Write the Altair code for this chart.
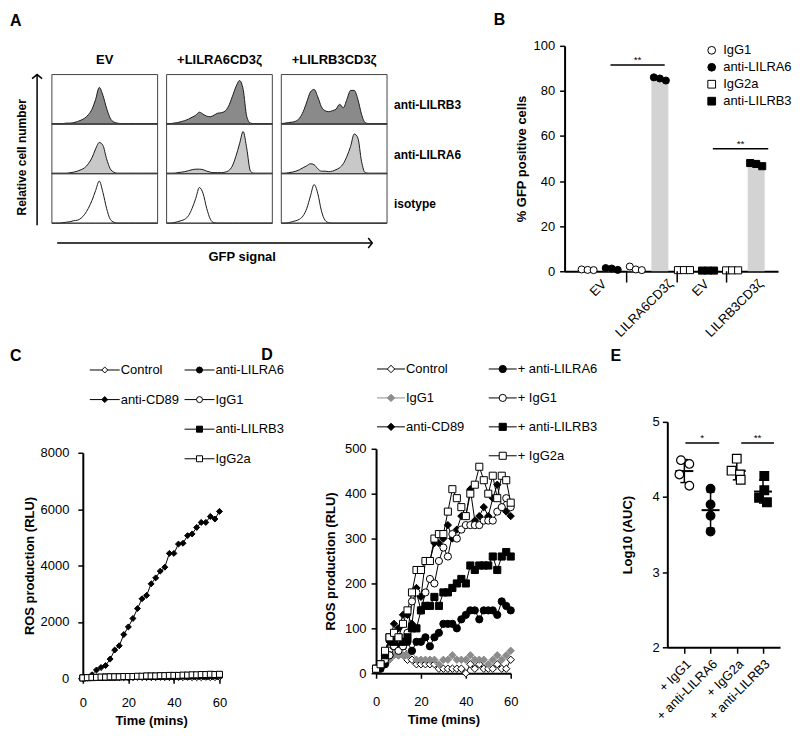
import altair as alt
import pandas as pd

FONT = "Liberation Sans"

# ======================= DATA =======================
# ---- Panel A: flow-cytometry histograms (height as fraction of a box) ----
a_constructs = ["EV", "+LILRA6CD3ζ", "+LILRB3CD3ζ"]
a_stains = ["anti-LILRB3", "anti-LILRA6", "isotype"]
a_fills = ["#8a8a8a", "#c8c8c8", "#ffffff"]
a_bins = [0, 1, 2, 3, 4, 5, 6, 7, 8, 9, 10, 11, 12, 13, 14, 15, 16, 17, 18, 19,
          20, 21, 22, 23, 24, 25, 26, 27, 28, 29]
a_ev_lilrb3 = [0.01, 0.01, 0.01, 0.01, 0.02, 0.02, 0.03, 0.05, 0.08, 0.12, 0.19, 0.30, 0.50, 0.74, 0.58,
               0.32, 0.12, 0.04, 0.02, 0.01, 0.01, 0.01, 0.01, 0.01, 0.01, 0.01, 0.01, 0.01, 0.01, 0.01]
a_ev_lilra6 = [0.01, 0.01, 0.01, 0.01, 0.01, 0.02, 0.03, 0.05, 0.08, 0.12, 0.20, 0.32, 0.50, 0.63, 0.57,
               0.30, 0.10, 0.03, 0.01, 0.01, 0.01, 0.01, 0.01, 0.01, 0.01, 0.01, 0.01, 0.01, 0.01, 0.01]
a_ev_iso = [0.00, 0.00, 0.00, 0.01, 0.02, 0.03, 0.05, 0.06, 0.10, 0.18, 0.30, 0.46, 0.66, 0.85, 0.62,
            0.30, 0.08, 0.02, 0.00, 0.00, 0.00, 0.00, 0.00, 0.00, 0.00, 0.00, 0.00, 0.00, 0.00, 0.00]
a_a6_lilrb3 = [0.01, 0.01, 0.02, 0.03, 0.05, 0.07, 0.10, 0.14, 0.18, 0.24, 0.20, 0.16, 0.15, 0.18, 0.22,
               0.23, 0.26, 0.36, 0.55, 0.75, 0.88, 0.70, 0.15, 0.02, 0.01, 0.01, 0.01, 0.01, 0.01, 0.01]
a_a6_lilra6 = [0.01, 0.01, 0.01, 0.02, 0.03, 0.04, 0.06, 0.08, 0.09, 0.09, 0.08, 0.05, 0.03, 0.02, 0.02,
               0.02, 0.03, 0.06, 0.15, 0.35, 0.60, 0.85, 0.50, 0.05, 0.01, 0.01, 0.01, 0.01, 0.01, 0.01]
a_a6_iso = [0.00, 0.00, 0.01, 0.03, 0.05, 0.08, 0.15, 0.30, 0.50, 0.72, 0.60, 0.30, 0.08, 0.01, 0.00,
            0.00, 0.00, 0.00, 0.00, 0.00, 0.00, 0.00, 0.00, 0.00, 0.00, 0.00, 0.00, 0.00, 0.00, 0.00]
a_b3_lilrb3 = [0.01, 0.02, 0.03, 0.04, 0.06, 0.12, 0.25, 0.45, 0.65, 0.70, 0.55, 0.35, 0.27, 0.25, 0.27,
               0.30, 0.40, 0.33, 0.50, 0.68, 0.68, 0.50, 0.20, 0.03, 0.01, 0.01, 0.01, 0.01, 0.01, 0.01]
a_b3_lilra6 = [0.01, 0.01, 0.02, 0.03, 0.05, 0.08, 0.12, 0.16, 0.20, 0.18, 0.10, 0.05, 0.05, 0.04, 0.05,
               0.08, 0.12, 0.20, 0.35, 0.55, 0.80, 0.72, 0.25, 0.02, 0.01, 0.01, 0.01, 0.01, 0.01, 0.01]
a_b3_iso = [0.00, 0.00, 0.01, 0.03, 0.05, 0.08, 0.15, 0.30, 0.55, 0.78, 0.60, 0.25, 0.06, 0.01, 0.00,
            0.00, 0.00, 0.00, 0.00, 0.00, 0.00, 0.00, 0.00, 0.00, 0.00, 0.00, 0.00, 0.00, 0.00, 0.00]

# ---- Panel B: % GFP positive cells ----
b_slots = [1, 2, 3, 4, 5, 6, 7, 8]
b_antibody = ["IgG1", "anti-LILRA6", "IgG1", "anti-LILRA6", "IgG2a", "anti-LILRB3", "IgG2a", "anti-LILRB3"]
b_rep1 = [0.8, 1.4, 2.1, 86.0, 0.5, 0.3, 0.4, 48.0]
b_rep2 = [0.6, 1.2, 0.8, 85.5, 0.5, 0.3, 0.4, 47.6]
b_rep3 = [0.5, 0.6, 0.5, 84.6, 0.5, 0.3, 0.4, 46.6]
b_jitter = [-0.25, 0.0, 0.25]
b_legend_order = ["IgG1", "anti-LILRA6", "IgG2a", "anti-LILRB3"]
b_shapes = ["circle", "circle", "square", "square"]
b_fills = ["white", "black", "white", "black"]
b_tick_pos = [1.5, 4.25, 5.75, 8.0]
b_tick_labels = ["EV", "LILRA6CD3ζ", "EV", "LILRB3CD3ζ"]
b_separators = [2.62, 4.72, 6.77]
b_sig_x1 = [1.95, 6.2]
b_sig_x2 = [4.2, 8.5]
b_sig_y = [91.5, 54.3]
b_sig_text = ["**", "**"]

# ---- Panels C and D: ROS production time courses ----
t_min = [0, 2, 4, 6, 8, 10, 12, 14, 16, 18, 20, 22, 24, 26, 28, 30, 32, 34, 36, 38, 40,
         42, 44, 46, 48, 50, 52, 54, 56, 58, 60]

c_series = ["Control", "anti-CD89", "anti-LILRA6", "IgG1", "anti-LILRB3", "IgG2a"]
c_control = [10, 20, 20, 30, 20, 20, 20, 30, 20, 20, 20, 20, 30, 20, 20, 20, 20, 30, 20, 20, 30,
             20, 20, 30, 20, 20, 20, 30, 20, 20, 30]
c_cd89 = [0, 20, 120, 290, 380, 450, 680, 1000, 1150, 1550, 1820, 2120, 2470, 2820, 2940, 3350,
          3560, 3800, 3940, 4430, 4430, 4760, 4790, 5060, 5120, 5350, 5530, 5530, 5740, 5650, 5920]
c_lilra6 = [10, 20, 20, 30, 30, 30, 40, 40, 40, 50, 40, 50, 50, 60, 50, 60, 60, 60, 70, 70, 60,
            70, 80, 70, 80, 80, 90, 80, 90, 90, 100]
c_igg1 = [10, 20, 30, 30, 30, 40, 40, 40, 50, 50, 50, 50, 60, 60, 60, 70, 70, 70, 80, 80, 90,
          80, 90, 90, 100, 100, 100, 110, 110, 120, 120]
c_lilrb3 = [10, 20, 20, 30, 30, 40, 40, 40, 50, 50, 50, 60, 60, 60, 70, 70, 70, 80, 80, 80, 90,
            90, 90, 100, 100, 100, 110, 110, 110, 120, 120]
c_igg2a = [10, 20, 30, 30, 40, 40, 50, 50, 50, 60, 60, 60, 70, 70, 80, 80, 80, 90, 90, 100, 100,
           100, 110, 110, 120, 120, 130, 130, 140, 130, 140]
c_shapes = ["diamond", "diamond", "circle", "circle", "square", "square"]
c_fills = ["white", "black", "black", "white", "black", "white"]
c_strokes = ["black", "black", "black", "black", "black", "black"]
c_sizes = [36, 36, 40, 40, 40, 40]
c_legend_left = ["Control", "anti-CD89"]
c_legend_right = ["anti-LILRA6", "IgG1", "anti-LILRB3", "IgG2a"]

d_series = ["Control", "IgG1", "anti-CD89", "+ anti-LILRA6", "+ IgG1", "+ anti-LILRB3", "+ IgG2a"]
d_control = [10, 20, 30, 50, 60, 40, 50, 30, 30, 20, 20, 20, 20, 20, 10, 10, 10, 10, 10, 10, 0,
             20, 10, 20, 10, 10, 10, 20, 10, 10, 30]
d_igg1 = [10, 10, 20, 30, 40, 40, 40, 40, 50, 30, 30, 30, 30, 30, 20, 30, 30, 40, 30, 30, 30,
          40, 30, 30, 30, 20, 30, 40, 30, 40, 50]
d_cd89 = [10, 20, 40, 70, 110, 100, 130, 130, 110, 190, 170, 250, 250, 290, 290, 300, 330, 300, 320,
          350, 350, 410, 340, 350, 370, 350, 390, 420, 370, 360, 350]
d_p_lilra6 = [10, 10, 20, 40, 60, 60, 60, 70, 50, 70, 70, 80, 60, 80, 90, 110, 110, 110, 100, 120,
              130, 140, 140, 120, 140, 140, 140, 130, 160, 150, 140]
d_p_igg1 = [10, 20, 30, 40, 60, 50, 60, 90, 160, 180, 140, 180, 210, 200, 250, 280, 260, 310, 300,
            320, 330, 330, 330, 330, 340, 340, 340, 360, 370, 390, 370]
d_p_lilrb3 = [10, 20, 40, 80, 70, 80, 70, 80, 100, 100, 140, 150, 150, 170, 150, 180, 180, 190, 200,
              210, 200, 240, 230, 240, 240, 240, 260, 230, 260, 270, 260]
d_p_igg2a = [10, 20, 50, 80, 90, 80, 110, 140, 180, 230, 230, 250, 250, 300, 310, 310, 360, 410, 390,
             370, 350, 400, 420, 460, 430, 400, 440, 390, 440, 430, 380]
d_shapes = ["diamond", "diamond", "diamond", "circle", "circle", "square", "square"]
d_fills = ["white", "#8c8c8c", "black", "black", "white", "black", "white"]
d_strokes = ["black", "#8c8c8c", "black", "black", "black", "black", "black"]
d_sizes = [55, 50, 50, 65, 65, 80, 80]
d_legend_left = ["Control", "IgG1", "anti-CD89"]
d_legend_right = ["+ anti-LILRA6", "+ IgG1", "+ anti-LILRB3", "+ IgG2a"]

# ---- Panel E: Log10(AUC) ----
e_groups = ["+ IgG1", "+ anti-LILRA6", "+ IgG2a", "+ anti-LILRB3"]
e_shapes = ["circle", "circle", "square", "square"]
e_fills = ["white", "black", "white", "black"]
e_igg1 = [4.49, 4.44, 4.30, 4.15]
e_lilra6 = [4.11, 3.90, 3.75, 3.54]
e_igg2a = [4.51, 4.35, 4.30, 4.23]
e_lilrb3 = [4.28, 4.09, 3.99, 3.93]
e_igg1_dx = [-0.13, 0.19, -0.19, 0.19]
e_lilra6_dx = [0.0, 0.0, 0.0, 0.0]
e_igg2a_dx = [0.0, -0.2, 0.12, 0.15]
e_lilrb3_dx = [0.05, 0.05, -0.15, 0.15]
e_sig_x1 = [1.04, 3.17]
e_sig_x2 = [2.33, 4.42]
e_sig_y = [4.72, 4.72]
e_sig_text = ["*", "**"]

INDEP = dict(shape="independent", fill="independent", stroke="independent",
             size="independent", color="independent")


def letter(text, dx, offset):
    return alt.TitleParams(text, anchor="start", frame="group", dx=dx, offset=offset,
                           fontSize=16, fontWeight="bold", font=FONT, color="black")


# ======================= PANEL A =======================
A_STRIDE = 1.085   # box width + gap, in box widths
A_NB = 29          # last bin index
a_curves = [[a_ev_lilrb3, a_ev_lilra6, a_ev_iso],
            [a_a6_lilrb3, a_a6_lilra6, a_a6_iso],
            [a_b3_lilrb3, a_b3_lilra6, a_b3_iso]]
hist_rows = []
for ci, con in enumerate(a_constructs):
    for ri, st in enumerate(a_stains):
        for b, lv in zip(a_bins, a_curves[ci][ri]):
            hist_rows.append({"construct": con, "stain": st, "ci": ci, "ri": ri, "bin": b, "level": lv})
a_hist_df = pd.DataFrame(hist_rows)

# The view of panel A is aligned with panel C's plot; boxes start left of it.
xA = alt.Scale(domain=[0.2925, 3.17], nice=False, zero=False)
yA = alt.Scale(domain=[-0.97, 3.58], nice=False, zero=False)

a_hist = alt.Chart(a_hist_df).transform_calculate(
    gx=f"datum.ci * {A_STRIDE} + datum.bin / {A_NB}",
    gy="2 - datum.ri + datum.level",
    gb="2 - datum.ri",
).mark_area(interpolate="monotone", stroke="#1a1a1a", strokeWidth=1, fillOpacity=1).encode(
    x=alt.X("gx:Q", scale=xA, axis=None),
    y=alt.Y("gy:Q", scale=yA, axis=None),
    y2=alt.Y2("gb:Q"),
    fill=alt.Fill("stain:N", scale=alt.Scale(domain=a_stains, range=a_fills), legend=None),
    detail=alt.Detail("construct:N"),
)

a_box_df = pd.DataFrame([{"ci": ci, "ri": ri} for ci in range(len(a_constructs))
                         for ri in range(len(a_stains))])
a_box = alt.Chart(a_box_df).transform_calculate(
    bx1=f"datum.ci * {A_STRIDE}", bx2=f"datum.ci * {A_STRIDE} + 1",
    by1="2 - datum.ri", by2="3 - datum.ri",
).mark_rect(fillOpacity=0, stroke="#444444", strokeWidth=1).encode(
    x=alt.X("bx1:Q", scale=xA, axis=None), x2="bx2:Q",
    y=alt.Y("by1:Q", scale=yA, axis=None), y2="by2:Q",
)

a_col_df = pd.DataFrame({"construct": a_constructs, "ci": list(range(len(a_constructs)))})
a_colhdr = alt.Chart(a_col_df).transform_calculate(
    hx=f"datum.ci * {A_STRIDE} + 0.5", hy="3.30",
).mark_text(fontSize=13, fontWeight="bold", color="black").encode(
    x=alt.X("hx:Q", scale=xA, axis=None), y=alt.Y("hy:Q", scale=yA, axis=None), text="construct:N")

a_row_df = pd.DataFrame({"stain": a_stains, "ri": list(range(len(a_stains)))})
a_rowhdr = alt.Chart(a_row_df).transform_calculate(
    rx=f"{2 * A_STRIDE + 1} + 0.066", ry="2.38 - datum.ri",
).mark_text(fontSize=12, fontWeight="bold", align="left", color="black").encode(
    x=alt.X("rx:Q", scale=xA, axis=None), y=alt.Y("ry:Q", scale=yA, axis=None), text="stain:N")

one = pd.DataFrame({"k": [0]})
a_yarrow = alt.Chart(one).mark_rule(strokeWidth=1.5, color="black").encode(
    x=alt.XDatum(-0.14, scale=xA, axis=None), y=alt.YDatum(-0.04, scale=yA, axis=None),
    y2=alt.Y2Datum(3.0))
a_yhead = alt.Chart(one).mark_point(shape="M-1,0.8L0,0L1,0.8", size=100, filled=False,
                                    stroke="black", strokeWidth=1.5, opacity=1).encode(
    x=alt.XDatum(-0.14, scale=xA, axis=None), y=alt.YDatum(3.0, scale=yA, axis=None))
a_xarrow = alt.Chart(one).mark_rule(strokeWidth=1.5, color="black").encode(
    x=alt.XDatum(0.05, scale=xA, axis=None), x2=alt.X2Datum(3.03),
    y=alt.YDatum(-0.40, scale=yA, axis=None))
a_xhead = alt.Chart(one).mark_point(shape="M-0.8,-1L0,0L-0.8,1", size=100, filled=False,
                                    stroke="black", strokeWidth=1.5, opacity=1).encode(
    x=alt.XDatum(3.03, scale=xA, axis=None), y=alt.YDatum(-0.40, scale=yA, axis=None))
a_ytext = alt.Chart(one).mark_text(text="Relative cell number", angle=270, fontSize=12,
                                   fontWeight="bold", color="black").encode(
    x=alt.XDatum(-0.283, scale=xA, axis=None), y=alt.YDatum(1.33, scale=yA, axis=None))
a_xtext = alt.Chart(one).mark_text(text="GFP signal", fontSize=13, fontWeight="bold",
                                   color="black").encode(
    x=alt.XDatum(1.80, scale=xA, axis=None), y=alt.YDatum(-0.68, scale=yA, axis=None))

panel_a = alt.layer(a_hist, a_box, a_colhdr, a_rowhdr, a_yarrow, a_yhead, a_xarrow, a_xhead,
                    a_ytext, a_xtext).properties(width=305, height=226, title=letter("A", -73, 17))

# ======================= PANEL B =======================
b_rows = []
for s, ab, r1, r2, r3 in zip(b_slots, b_antibody, b_rep1, b_rep2, b_rep3):
    for j, v in zip(b_jitter, [r1, r2, r3]):
        b_rows.append({"slot": s, "antibody": ab, "value": v, "jit": j})
b_df = pd.DataFrame(b_rows)

xB = alt.Scale(domain=[0.25, 8.7], nice=False, zero=False)
yB = alt.Scale(domain=[0, 100], nice=False)
b_label_expr = ("[" + ",".join(f"'{l}'" for l in b_tick_labels) + "][indexof(["
                + ",".join(str(p) for p in b_tick_pos) + "], datum.value)]")
axBx = alt.Axis(values=b_tick_pos, labelExpr=b_label_expr, labelAngle=-45, labelAlign="right",
                labelBaseline="top", ticks=False, title=None, labelPadding=6)
axBy = alt.Axis(values=[0, 20, 40, 60, 80, 100], title="% GFP positive cells", titlePadding=4,
                labelPadding=5)
b_legend = alt.Legend(title=None, orient="none", legendX=141, legendY=-2, labelFontSize=13,
                      symbolSize=60, symbolStrokeColor="black", symbolStrokeWidth=1,
                      rowPadding=3, labelOffset=5, labelColor="black")

b_bars = alt.Chart(b_df).mark_bar(size=17, color="#d3d3d3").encode(
    x=alt.X("slot:Q", scale=xB, axis=axBx),
    y=alt.Y("mean(value):Q", scale=yB, axis=axBy))
b_pts = alt.Chart(b_df).transform_calculate(xj="datum.slot + datum.jit").mark_point(
    filled=True, opacity=1, size=50, strokeWidth=1).encode(
    x=alt.X("xj:Q", scale=xB, axis=axBx),
    y=alt.Y("value:Q", scale=yB, axis=axBy),
    shape=alt.Shape("antibody:N", scale=alt.Scale(domain=b_legend_order, range=b_shapes), legend=b_legend),
    fill=alt.Fill("antibody:N", scale=alt.Scale(domain=b_legend_order, range=b_fills), legend=b_legend),
    stroke=alt.Stroke("antibody:N", scale=alt.Scale(domain=b_legend_order,
                                                    range=["black", "black", "black", "black"]),
                      legend=b_legend))
b_sep = alt.Chart(pd.DataFrame({"sx": b_separators})).mark_rule(strokeWidth=1.5, color="black").encode(
    x=alt.X("sx:Q", scale=xB, axis=axBx),
    y=alt.YDatum(0, scale=yB, axis=axBy), y2=alt.Y2Datum(-5))
b_sig_df = pd.DataFrame({"x1": b_sig_x1, "x2": b_sig_x2, "y": b_sig_y, "txt": b_sig_text})
b_sig = alt.Chart(b_sig_df).mark_rule(strokeWidth=1.5, color="black").encode(
    x=alt.X("x1:Q", scale=xB, axis=axBx), x2="x2:Q", y=alt.Y("y:Q", scale=yB, axis=axBy))
b_sigt = alt.Chart(b_sig_df).transform_calculate(xm="(datum.x1 + datum.x2) / 2").mark_text(
    fontSize=10, dy=-5, color="black").encode(
    x=alt.X("xm:Q", scale=xB, axis=axBx), y=alt.Y("y:Q", scale=yB, axis=axBy), text="txt:N")

panel_b = alt.layer(b_bars, b_pts, b_sep, b_sig, b_sigt).properties(
    width=214, height=226, title=letter("B", -71, 12))


# ======================= PANELS C & D =======================
def timecourse(series, values, shapes, fills, strokes, sizes, ymax, ystep, width, height, ytop,
               leg_cols, leg_x, leg_y, leg_len, title, xpad, ypad, ytpad):
    rows = []
    for s, vals in zip(series, values):
        for t, v in zip(t_min, vals):
            rows.append({"series": s, "time": t, "value": v})
    df = pd.DataFrame(rows)
    shape_sc = alt.Scale(domain=series, range=shapes)
    fill_sc = alt.Scale(domain=series, range=fills)
    stroke_sc = alt.Scale(domain=series, range=strokes)
    size_sc = alt.Scale(domain=series, range=sizes)
    ax_x = alt.Axis(values=[0, 20, 40, 60], title="Time (mins)", labelPadding=xpad, titlePadding=5)
    ax_y = alt.Axis(values=list(range(0, ymax + 1, ystep)), format="d", title="ROS production (RLU)",
                    labelPadding=ypad, titlePadding=ytpad)
    xs = alt.Scale(domain=[0, 60], nice=False, zero=False)
    ys = alt.Scale(domain=[0, ymax], range=[height, ytop], nice=False)
    base = alt.Chart(df).encode(x=alt.X("time:Q", scale=xs, axis=ax_x),
                                y=alt.Y("value:Q", scale=ys, axis=ax_y))
    lines = base.mark_line(strokeWidth=1).encode(
        stroke=alt.Stroke("series:N", scale=stroke_sc, legend=None), detail="series:N")
    pts = base.mark_point(filled=True, opacity=1, strokeWidth=1).encode(
        shape=alt.Shape("series:N", scale=shape_sc, legend=None),
        fill=alt.Fill("series:N", scale=fill_sc, legend=None),
        stroke=alt.Stroke("series:N", scale=stroke_sc, legend=None),
        size=alt.Size("series:N", scale=size_sc, legend=None))
    plot = alt.layer(lines, pts)

    lrows = []
    for ci, col in enumerate(leg_cols):
        for ri, s in enumerate(col):
            lrows.append({"series": s, "lcol": ci, "lrow": ri})
    ldf = pd.DataFrame(lrows)
    lx = alt.X("lcol:O", scale=alt.Scale(type="point", domain=[0, 1], range=leg_x, padding=0), axis=None)
    ly = alt.Y("lrow:O", scale=alt.Scale(type="point", domain=[0, 1, 2, 3], range=leg_y, padding=0),
               axis=None)
    lbase = alt.Chart(ldf).encode(x=lx, y=ly)
    lline = lbase.mark_point(shape="M-1,0L1,0", size=leg_len * leg_len, filled=False, strokeWidth=1,
                             opacity=1).encode(stroke=alt.Stroke("series:N", scale=stroke_sc, legend=None))
    lsym = lbase.mark_point(filled=True, opacity=1, strokeWidth=1).encode(
        shape=alt.Shape("series:N", scale=shape_sc, legend=None),
        fill=alt.Fill("series:N", scale=fill_sc, legend=None),
        stroke=alt.Stroke("series:N", scale=stroke_sc, legend=None),
        size=alt.Size("series:N", scale=size_sc, legend=None))
    ltxt = lbase.mark_text(align="left", dx=leg_len / 2 + 1, fontSize=13, color="black").encode(
        text="series:N")
    legend_layer = alt.layer(lline, lsym, ltxt)
    return alt.layer(plot, legend_layer).resolve_scale(x="independent", y="independent").properties(
        width=width, height=height, title=title)


panel_c = timecourse(c_series, [c_control, c_cd89, c_lilra6, c_igg1, c_lilrb3, c_igg2a],
                     c_shapes, c_fills, c_strokes, c_sizes, 8000, 2000, 137, 257, 31,
                     [c_legend_left, c_legend_right], [22, 117], [-52, 37], 30,
                     letter("C", -73, 0), 13, 9, 4)
panel_d = timecourse(d_series, [d_control, d_igg1, d_cd89, d_p_lilra6, d_p_igg1, d_p_lilrb3, d_p_igg2a],
                     d_shapes, d_fills, d_strokes, d_sizes, 500, 100, 135, 252, 27,
                     [d_legend_left, d_legend_right], [15, 127], [-53, 34], 28,
                     letter("D", -115, 0), 17, 5, 7)

# ======================= PANEL E =======================
e_rows = []
for ci, (g, vals, offs) in enumerate(zip(e_groups, [e_igg1, e_lilra6, e_igg2a, e_lilrb3],
                                         [e_igg1_dx, e_lilra6_dx, e_igg2a_dx, e_lilrb3_dx])):
    for v, o in zip(vals, offs):
        e_rows.append({"group": g, "cat": ci + 1, "value": v, "off": o})
e_df = pd.DataFrame(e_rows)

xE = alt.Scale(domain=[0.35, 4.65], nice=False, zero=False)
yE = alt.Scale(domain=[2, 5], nice=False, zero=False)
e_label_expr = "[" + ",".join(f"'{g}'" for g in e_groups) + "][datum.value - 1]"
axEx = alt.Axis(values=[1, 2, 3, 4], labelExpr=e_label_expr, labelAngle=-45, labelAlign="right",
                labelBaseline="top", title=None, tickSize=6, labelPadding=4)
axEy = alt.Axis(values=[2, 3, 4, 5], title="Log10 (AUC)", titlePadding=18, labelPadding=3)

e_pts = alt.Chart(e_df).transform_calculate(xj="datum.cat + datum.off").mark_point(
    filled=True, opacity=1, size=75, stroke="black", strokeWidth=1.2).encode(
    x=alt.X("xj:Q", scale=xE, axis=axEx), y=alt.Y("value:Q", scale=yE, axis=axEy),
    shape=alt.Shape("group:N", scale=alt.Scale(domain=e_groups, range=e_shapes), legend=None),
    fill=alt.Fill("group:N", scale=alt.Scale(domain=e_groups, range=e_fills), legend=None))
e_agg = alt.Chart(e_df).transform_aggregate(
    m="mean(value)", sd="stdev(value)", groupby=["cat"]).transform_calculate(
    lo="datum.m - datum.sd", hi="datum.m + datum.sd")
e_mean = e_agg.mark_tick(orient="horizontal", size=18, thickness=2, color="black", opacity=1).encode(
    x=alt.X("cat:Q", scale=xE, axis=axEx), y=alt.Y("m:Q", scale=yE, axis=axEy))
e_err = e_agg.mark_rule(strokeWidth=1.5, color="black").encode(
    x=alt.X("cat:Q", scale=xE, axis=axEx), y=alt.Y("lo:Q", scale=yE, axis=axEy), y2="hi:Q")
e_cap_lo = e_agg.mark_tick(orient="horizontal", size=8, thickness=1.5, color="black", opacity=1).encode(
    x=alt.X("cat:Q", scale=xE, axis=axEx), y=alt.Y("lo:Q", scale=yE, axis=axEy))
e_cap_hi = e_agg.mark_tick(orient="horizontal", size=8, thickness=1.5, color="black", opacity=1).encode(
    x=alt.X("cat:Q", scale=xE, axis=axEx), y=alt.Y("hi:Q", scale=yE, axis=axEy))
e_sig_df = pd.DataFrame({"x1": e_sig_x1, "x2": e_sig_x2, "y": e_sig_y, "txt": e_sig_text})
e_sig = alt.Chart(e_sig_df).mark_rule(strokeWidth=1.5, color="black").encode(
    x=alt.X("x1:Q", scale=xE, axis=axEx), x2="x2:Q", y=alt.Y("y:Q", scale=yE, axis=axEy))
e_sigt = alt.Chart(e_sig_df).transform_calculate(xm="(datum.x1 + datum.x2) / 2").mark_text(
    fontSize=10, dy=-5, color="black").encode(
    x=alt.X("xm:Q", scale=xE, axis=axEx), y=alt.Y("y:Q", scale=yE, axis=axEy), text="txt:N")

panel_e = alt.layer(e_err, e_cap_lo, e_cap_hi, e_mean, e_pts, e_sig, e_sigt).properties(
    width=113, height=226, title=letter("E", -57, 52))

# ======================= LAYOUT =======================
row1 = alt.hconcat(panel_a, panel_b, spacing=178, bounds="flush").resolve_scale(**INDEP)
row2 = alt.hconcat(panel_c, panel_d, panel_e, spacing=157, bounds="flush").resolve_scale(**INDEP)

chart = alt.vconcat(row1, row2, spacing=7,
                    padding={"left": 2, "top": 3, "right": 0, "bottom": 0}).resolve_scale(**INDEP).configure(
    font=FONT, background="white").configure_view(strokeWidth=0).configure_axis(
    domainColor="black", domainWidth=2, tickColor="black", tickWidth=1.5, tickSize=5,
    labelColor="black", labelFontSize=13, labelFont=FONT, titleFont=FONT, titleFontSize=13,
    titleFontWeight="bold", titleColor="black", grid=False, labelFlush=False, labelOverlap=False)

chart.save("out.html", embed_options={"renderer": "svg", "actions": False})
